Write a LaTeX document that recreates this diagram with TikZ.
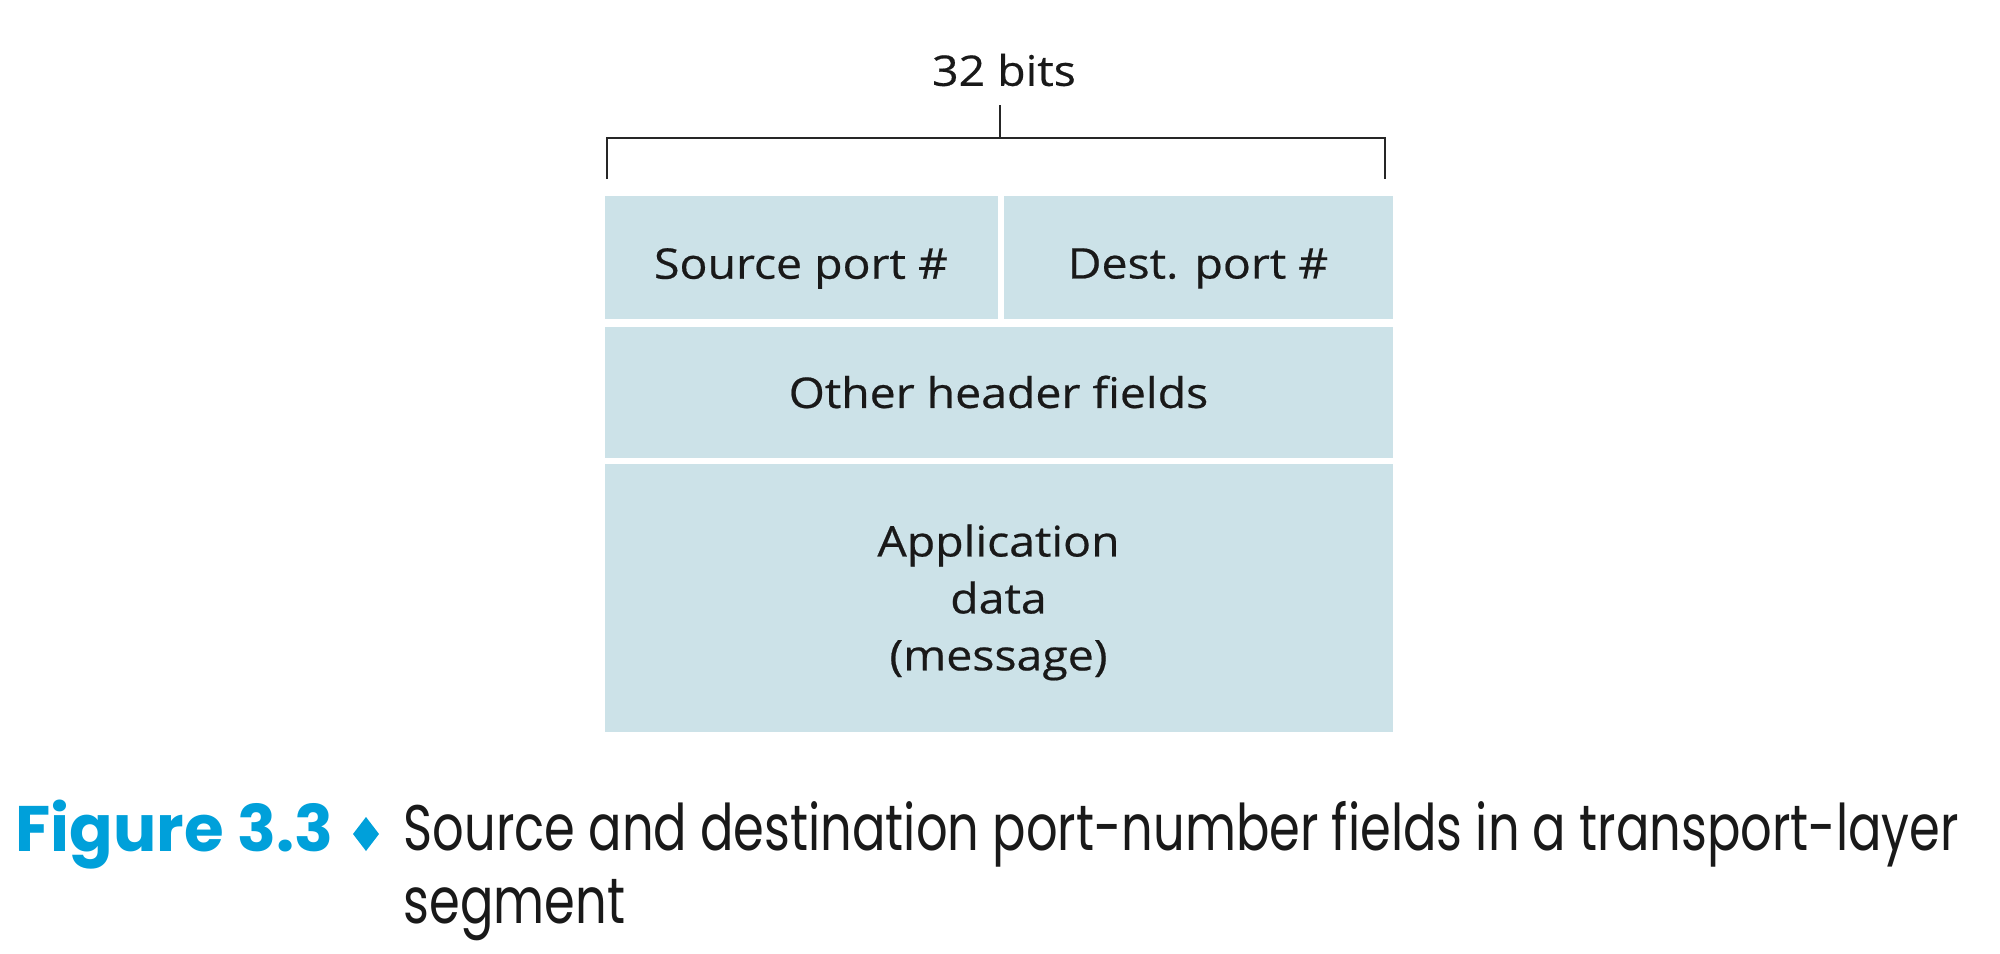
\documentclass[tikz,border=0pt]{standalone}
\usepackage{fontspec}
\setmainfont{Open Sans}[FakeStretch=1.1, FakeBold=0.5]
\newfontfamily\capfont{Poppins}[FakeStretch=0.77]
\newfontfamily\fignofont{Poppins}
\definecolor{fieldblue}{HTML}{CCE2E8}
\definecolor{capblue}{HTML}{00A0DA}
\newcommand{\lowtxt}[1]{\raisebox{-1.1mm}[\height][\depth]{#1}}
\begin{document}
\begin{tikzpicture}[x=0.1mm, y=-0.1mm, font=\fontsize{12}{16.2}\selectfont]
    \tikzset{
      fld/.style={fill=fieldblue, inner sep=0pt, align=center, text=black!90},
      brk/.style={line width=0.6pt, draw=black!85},
      captxt/.style={anchor=base west, inner sep=0pt,
                  font=\capfont\fontsize{18.3}{20.5}\selectfont},
    }
    \useasboundingbox (0,0) rectangle (2000,954);

    % header fields
    \node[fld, minimum width=39.3mm, minimum height=12.3mm] (src) at (801,257.5) {\lowtxt{Source port \#}};
    \node[fld, minimum width=38.9mm, minimum height=12.3mm] (dst) at (1198,257.5) {\lowtxt{Dest. port \#}};
    \node[fld, minimum width=78.8mm, minimum height=13.1mm] (oth) at (998.5,392) {Other header fields};
    \node[fld, minimum width=78.8mm, minimum height=26.8mm] (app) at (998.5,598)
      {\raisebox{-0.4mm}[\height][\depth]{\begin{tabular}{@{}c@{}}Application\\data\\(message)\end{tabular}}};

    % 32 bits bracket
    \node[inner sep=0pt, text=black!90] (bits) at (1004,70) {32 bits};
    \coordinate (tktop) at (1000,105);
    \coordinate (tkbot) at (1000,138);
    \coordinate (brl) at (607,179);
    \coordinate (brr) at (1385,179);
    \draw[brk] (tktop) -- (tkbot);
    \draw[brk] (brl) |- (tkbot) -| (brr);

    % caption
    \node[captxt, text=capblue, font=\fignofont\bfseries\fontsize{18.3}{19}\selectfont] (figno) at (15,851) {Figure 3.3};
    \fill[capblue] (366,817) -- (379,834) -- (366,851) -- (353,834) -- cycle;
    \node[captxt, align=left, text=black!90] (capline) at (403,923)
      {Source and destination port-number fields in a transport-layer\\segment};
\end{tikzpicture}
\end{document}
